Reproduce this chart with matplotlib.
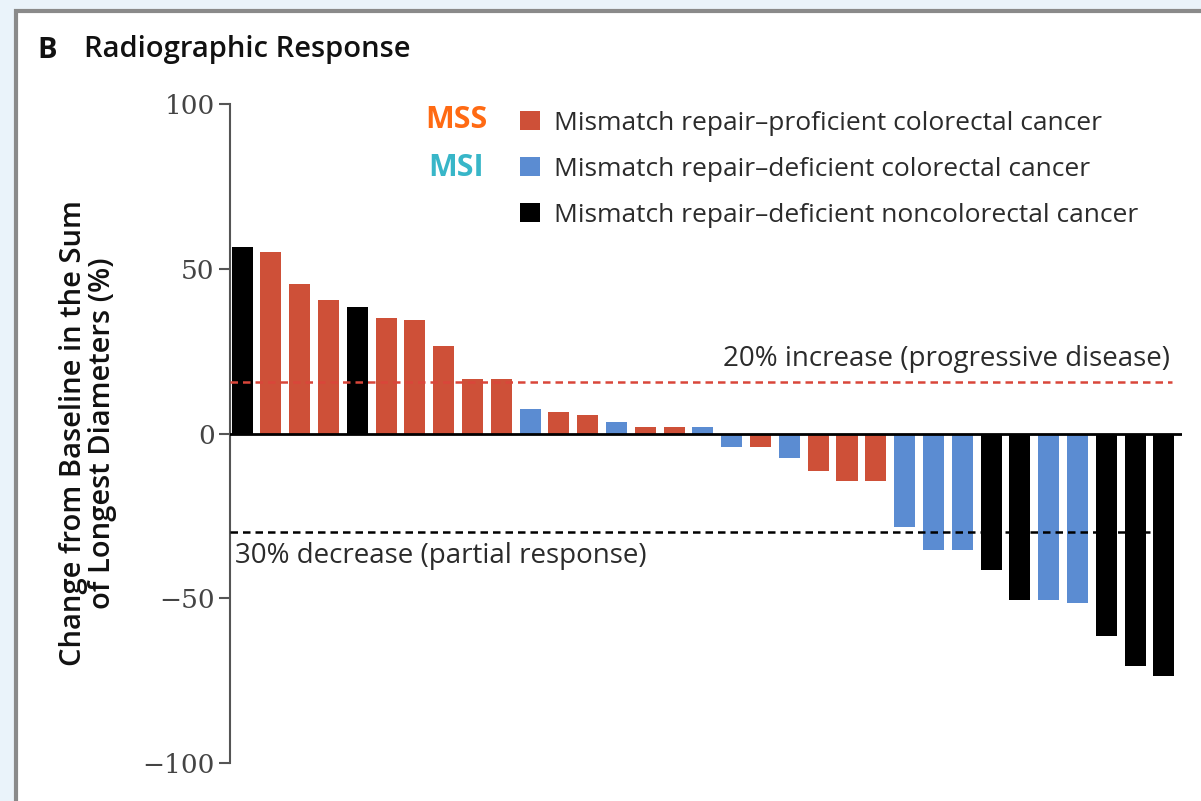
import matplotlib
matplotlib.use("Agg")
import matplotlib.pyplot as plt
from matplotlib.patches import Patch, Rectangle

# bar values (% change from baseline), in plotted order
values = [56.5, 55, 45.5, 40.5, 38.5, 35, 34.5, 26.5, 16.5, 16.5,
          7.5, 6.5, 5.5, 3.5, 2, 2, 2, -4, -4, -7.5,
          -11.5, -14.5, -14.5, -28.5, -35.5, -35.5, -41.5, -50.5, -50.5, -51.5,
          -61.5, -70.5, -73.5]
# P = proficient colorectal, D = deficient colorectal, N = deficient noncolorectal
groups = ["N", "P", "P", "P", "N", "P", "P", "P", "P", "P",
          "D", "P", "P", "D", "P", "P", "D", "D", "P", "D",
          "P", "P", "P", "D", "D", "D", "N", "N", "D", "D",
          "N", "N", "N"]
labels = {"P": "Mismatch repair\u2013proficient colorectal cancer",
          "D": "Mismatch repair\u2013deficient colorectal cancer",
          "N": "Mismatch repair\u2013deficient noncolorectal cancer"}
yticks = [100, 50, 0, -50, -100]
pd_line = 15.5
pr_line = -30

RED = "#CE5038"
BLUE = "#5B8CD2"
BLACK = "#000000"
colors = {"P": RED, "D": BLUE, "N": BLACK}
TEXT = "#2b2b2b"
SANS = ["Open Sans", "DejaVu Sans"]

W, H = 1201, 801
fig = plt.figure(figsize=(W / 100, H / 100), dpi=100, facecolor="#EAF3FA")


def fx(px):
    return px / W


def fy(py):
    return 1 - py / H


# white panel with grey frame on top and left
fig.add_artist(Rectangle((fx(16), -0.1), 1.2, fy(11) + 0.1, transform=fig.transFigure,
                         facecolor="white", edgecolor="#8a8a8a", linewidth=3, zorder=0))

ax = fig.add_axes([fx(230), fy(763), fx(1182) - fx(230), fy(104) - fy(763)])
ax.set_facecolor("none")

x = list(range(len(values)))
ax.bar(x, values, width=0.73, color=[colors[g] for g in groups], zorder=2)

ax.set_xlim(-0.42, len(values) - 0.37)
ax.set_ylim(-100, 100)
for s in ["top", "right", "bottom"]:
    ax.spines[s].set_visible(False)
ax.spines["left"].set_color("#555555")
ax.spines["left"].set_linewidth(1.5)
ax.set_xticks([])
ax.set_yticks(yticks)
ax.set_yticklabels([str(t).replace("-", "\u2212") for t in yticks],
                   family="DejaVu Serif", fontsize=19, color="#444444")
ax.tick_params(axis="y", length=8, width=1.5, color="#555555", pad=3)

ax.axhline(0, color="black", linewidth=2, zorder=3)
ax.plot([-0.42, 32.3], [pd_line, pd_line], color="#D9463A", linewidth=1.8,
        dashes=(3, 2), zorder=3)
ax.plot([-0.42, 32.3], [pr_line, pr_line], color="black", linewidth=1.8,
        dashes=(3, 2), zorder=3)

ax.text(32.2, pd_line + 3, "20% increase (progressive disease)", ha="right", va="bottom",
        family=SANS, fontsize=20, color=TEXT)
ax.text(-0.25, pr_line - 2.8, "30% decrease (partial response)", ha="left", va="top",
        family=SANS, fontsize=20, color=TEXT)

ax.set_ylabel("Change from Baseline in the Sum\nof Longest Diameters (%)",
              family=SANS, fontsize=21, fontweight="semibold", color="#111111",
              linespacing=1.0, labelpad=18)

handles = [Patch(facecolor=colors[k], label=labels[k]) for k in ["P", "D", "N"]]
ax.legend(handles=handles, loc="upper left", bbox_to_anchor=(fx(496), fy(87)),
          bbox_transform=fig.transFigure, frameon=False, handlelength=0.75,
          handleheight=0.75, handletextpad=0.55, labelspacing=0.8,
          prop={"family": SANS, "size": 19}, labelcolor=TEXT)

fig.text(fx(488), fy(120), "MSS", ha="right", va="center", family=SANS,
         fontsize=22, fontweight="bold", color="#FF6A13")
fig.text(fx(484), fy(168), "MSI", ha="right", va="center", family=SANS,
         fontsize=22, fontweight="bold", color="#38B6C8")

fig.text(fx(37), fy(50), "B", ha="left", va="center", family=SANS,
         fontsize=21, fontweight="bold", color="#111111")
fig.text(fx(84), fy(50), "Radiographic Response", ha="left", va="center", family=SANS,
         fontsize=21, fontweight="semibold", color="#111111")

fig.savefig("out.png", dpi=100, facecolor=fig.get_facecolor())
